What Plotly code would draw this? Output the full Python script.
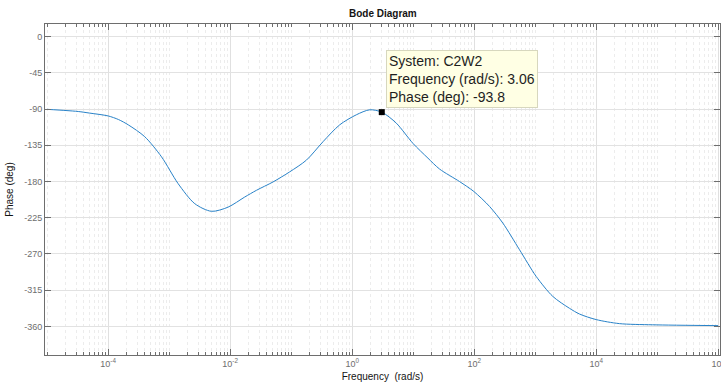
import math
import plotly.graph_objects as go

# ---- data ----
freq_rad_s = [1e-5, 2.04e-5, 3.24e-5, 5e-5, 1e-4, 1.48e-4, 2.14e-4, 3.98e-4, 7.5e-4, 1.4e-3, 2.63e-3, 4.94e-3,
              9.25e-3, 0.0173, 0.027, 0.0505, 0.0946, 0.178, 0.333, 0.624, 1.17, 1.94,
              3.06, 5.3, 9.9, 17.5, 27.1, 57.5, 98.9, 179, 295, 555, 1040, 1945, 3656,
              5333, 1e4, 24040, 84530, 1e6]
phase_deg = [-90.3, -91.8, -93, -95, -98.5, -103, -109.6, -124.3, -149.3, -182.5, -207.5, -217,
             -211.8, -199.3, -190.9, -180.5, -168, -153.4, -130.5, -109.6, -97.1, -90.9,
             -93.8, -107.5, -132.5, -151, -164.5, -180, -192.4, -211, -231.6, -264.8, -297.9, -322.7, -337.5,
             -344.6, -351.5, -356.5, -358, -359]

tip_freq = 3.06
tip_phase = -93.8
tip_system = "C2W2"

x_major_vals = [1e-4, 1e-2, 1e0, 1e2, 1e4, 1e6]
x_major_text = ["10<sup>-4</sup>", "10<sup>-2</sup>", "10<sup>0</sup>",
                "10<sup>2</sup>", "10<sup>4</sup>", "10<sup>6</sup>"]
y_tick_vals = [0, -45, -90, -135, -180, -225, -270, -315, -360]
y_tick_text = [str(v) for v in y_tick_vals]

x_minor_vals = [k * 10.0 ** n for n in range(-5, 6) for k in range(1, 10)
                if not (k == 1 and 10.0 ** n in x_major_vals)]

FONT = "Liberation Sans, Arial, sans-serif"
AX = "rgb(110,110,110)"

fig = go.Figure()
fig.add_trace(go.Scatter(
    x=freq_rad_s, y=phase_deg, mode="lines",
    line=dict(color="rgb(40,130,200)", width=1, shape="spline", smoothing=0.8),
    hoverinfo="skip", showlegend=False))
fig.add_trace(go.Scatter(
    x=[tip_freq], y=[tip_phase], mode="markers",
    marker=dict(symbol="square", size=6, color="black"),
    hoverinfo="skip", showlegend=False))

fig.add_annotation(
    x=math.log10(tip_freq), y=tip_phase, xref="x", yref="y",
    text=f"System: {tip_system}<br>Frequency (rad/s): {tip_freq:.2f}<br>Phase (deg): {tip_phase:.1f}",
    showarrow=False, xanchor="left", yanchor="bottom", align="left",
    xshift=4, yshift=4,
    font=dict(family=FONT, size=14, color="rgb(30,30,30)"),
    bgcolor="rgb(255,255,228)", bordercolor="rgb(215,215,190)", borderwidth=1, borderpad=2)

fig.update_layout(
    width=721, height=385,
    margin=dict(l=45, r=1, t=24, b=30, autoexpand=False),
    paper_bgcolor="white", plot_bgcolor="white",
    font=dict(family=FONT, color=AX),
    title=dict(text="<b>Bode Diagram</b>", x=0.531, xanchor="center", y=0.966, yanchor="middle",
               font=dict(family=FONT, size=10, color="rgb(20,20,20)")),
    xaxis=dict(
        type="log", range=[-5.035, 6.03], automargin=False,
        tickmode="array", tickvals=x_major_vals, ticktext=x_major_text,
        ticks="inside", ticklen=6, tickcolor=AX, tickfont=dict(size=9, color=AX),
        ticklabeloverflow="allow",
        showline=True, linecolor=AX, linewidth=1, mirror="ticks",
        showgrid=True, gridcolor="rgb(224,224,224)", gridwidth=1,
        zeroline=False,
        minor=dict(tickmode="array", tickvals=x_minor_vals, ticks="inside", ticklen=3,
                   tickcolor=AX, showgrid=True, gridcolor="rgb(236,236,236)", griddash="dot"),
        title=dict(text="Frequency\u00a0 (rad/s)", standoff=5,
                   font=dict(size=10, color="rgb(20,20,20)")),
    ),
    yaxis=dict(
        range=[-395.5, 15.7], automargin=False,
        tickmode="array", tickvals=y_tick_vals, ticktext=y_tick_text,
        ticks="inside", ticklen=6, tickcolor=AX, tickfont=dict(size=9, color=AX),
        showline=True, linecolor=AX, linewidth=1, mirror="ticks",
        showgrid=True, gridcolor="rgb(226,226,226)", gridwidth=1,
        zeroline=False,
        title=dict(text="Phase (deg)", standoff=8,
                   font=dict(size=10, color="rgb(20,20,20)")),
    ),
)

fig.write_html("out.html")
